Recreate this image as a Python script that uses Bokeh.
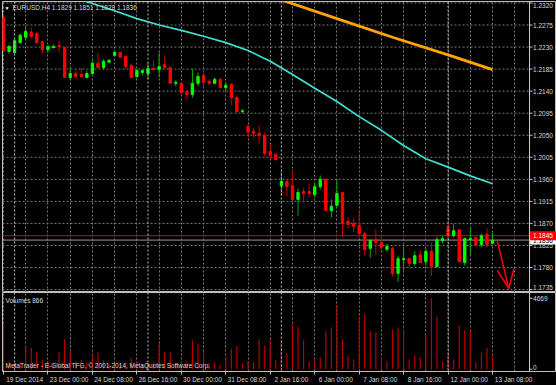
from bokeh.plotting import figure
from bokeh.layouts import column
from bokeh.models import ColumnDataSource, FixedTicker, Range1d, Label, Span
from bokeh.core.properties import value
from bokeh.embed import file_html
from bokeh.resources import INLINE

# ---------------- data ----------------
symbol = "EURUSD,H4"
opens = [1.2290, 1.2221, 1.2219, 1.2239, 1.2250, 1.2260, 1.2258, 1.2241, 1.2225, 1.2229,
         1.2233, 1.2229, 1.2168, 1.2176, 1.2174, 1.2168, 1.2176, 1.2197, 1.2188, 1.2199,
         1.2213, 1.2219, 1.2211, 1.2192, 1.2170, 1.2178, 1.2176, 1.2186, 1.2184, 1.2194,
         1.2188, 1.2156, 1.2156, 1.2139, 1.2133, 1.2156, 1.2172, 1.2160, 1.2156, 1.2164,
         1.2147, 1.2154, 1.2127, 1.2098, 1.2068, 1.2058, 1.2054, 1.2049, 1.2017, 1.2011,
         1.1947, 1.1956, 1.1947, 1.1919, 1.1935, 1.1935, 1.1929, 1.1945, 1.1960, 1.1896,
         1.1907, 1.1933, 1.1874, 1.1870, 1.1866, 1.1849, 1.1819, 1.1837, 1.1831, 1.1817,
         1.1819, 1.1768, 1.1796, 1.1798, 1.1788, 1.1806, 1.1792, 1.1813, 1.1782, 1.1835,
         1.1862, 1.1845, 1.1857, 1.1790, 1.1837, 1.1841, 1.1827, 1.1847, 1.1829]
highs = [1.2295, 1.2235, 1.2248, 1.2258, 1.2274, 1.2270, 1.2260, 1.2243, 1.2233, 1.2235,
         1.2243, 1.2231, 1.2188, 1.2182, 1.2188, 1.2182, 1.2207, 1.2219, 1.2205, 1.2205,
         1.2223, 1.2221, 1.2211, 1.2197, 1.2186, 1.2184, 1.2197, 1.2203, 1.2219, 1.2213,
         1.2190, 1.2162, 1.2158, 1.2143, 1.2186, 1.2178, 1.2180, 1.2164, 1.2168, 1.2166,
         1.2158, 1.2156, 1.2131, 1.2103, 1.2072, 1.2064, 1.2070, 1.2056, 1.2031, 1.2013,
         1.1976, 1.1958, 1.1976, 1.1941, 1.1943, 1.1951, 1.1953, 1.1968, 1.1962, 1.1919,
         1.1960, 1.1933, 1.1882, 1.1880, 1.1898, 1.1853, 1.1839, 1.1857, 1.1845, 1.1829,
         1.1823, 1.1804, 1.1819, 1.1800, 1.1813, 1.1815, 1.1819, 1.1831, 1.1843, 1.1845,
         1.1870, 1.1870, 1.1857, 1.1841, 1.1860, 1.1843, 1.1849, 1.1860, 1.1851]
lows = [1.2219, 1.2217, 1.2217, 1.2237, 1.2248, 1.2248, 1.2237, 1.2217, 1.2219, 1.2227,
        1.2219, 1.2168, 1.2162, 1.2166, 1.2168, 1.2166, 1.2174, 1.2188, 1.2184, 1.2199,
        1.2211, 1.2209, 1.2186, 1.2168, 1.2166, 1.2172, 1.2164, 1.2182, 1.2168, 1.2186,
        1.2156, 1.2150, 1.2135, 1.2123, 1.2127, 1.2150, 1.2150, 1.2152, 1.2154, 1.2147,
        1.2141, 1.2111, 1.2098, 1.2096, 1.2047, 1.2045, 1.2033, 1.2007, 1.2002, 1.2000,
        1.1927, 1.1925, 1.1917, 1.1886, 1.1913, 1.1923, 1.1923, 1.1939, 1.1896, 1.1882,
        1.1905, 1.1841, 1.1860, 1.1853, 1.1841, 1.1804, 1.1800, 1.1806, 1.1817, 1.1813,
        1.1762, 1.1751, 1.1770, 1.1780, 1.1784, 1.1790, 1.1784, 1.1762, 1.1780, 1.1829,
        1.1843, 1.1841, 1.1792, 1.1784, 1.1806, 1.1825, 1.1821, 1.1821, 1.1828]
closes = [1.2223, 1.2231, 1.2243, 1.2254, 1.2262, 1.2252, 1.2239, 1.2225, 1.2231, 1.2231,
          1.2231, 1.2168, 1.2176, 1.2170, 1.2170, 1.2176, 1.2197, 1.2188, 1.2201, 1.2203,
          1.2219, 1.2209, 1.2190, 1.2168, 1.2182, 1.2182, 1.2186, 1.2184, 1.2190, 1.2188,
          1.2156, 1.2158, 1.2137, 1.2133, 1.2156, 1.2170, 1.2158, 1.2156, 1.2164, 1.2147,
          1.2152, 1.2127, 1.2098, 1.2100, 1.2056, 1.2054, 1.2049, 1.2013, 1.2009, 1.2000,
          1.1956, 1.1945, 1.1919, 1.1933, 1.1931, 1.1931, 1.1945, 1.1960, 1.1896, 1.1905,
          1.1931, 1.1870, 1.1868, 1.1864, 1.1849, 1.1817, 1.1835, 1.1831, 1.1821, 1.1823,
          1.1768, 1.1798, 1.1798, 1.1788, 1.1804, 1.1790, 1.1813, 1.1782, 1.1837, 1.1839,
          1.1845, 1.1855, 1.1792, 1.1839, 1.1839, 1.1827, 1.1845, 1.1827, 1.1836]
volumes = [3000, 510, 400, 450, 1540, 1410, 1150, 580, 450, 380,
           1090, 1980, 1150, 500, 600, 450, 960, 1090, 580, 350,
           320, 400, 450, 700, 500, 300, 450, 400, 1660, 1150,
           1090, 400, 510, 450, 1920, 1660, 1150, 400, 450, 260,
           830, 1340, 1540, 400, 510, 450, 1980, 1540, 1980, 600,
           1790, 1020, 3000, 2820, 1920, 510, 640, 770, 2500, 2750,
           4220, 1980, 900, 640, 3450, 3650, 2500, 2430, 770, 510,
           2620, 2750, 2620, 640, 900, 770, 2240, 4669, 3450, 510,
           900, 640, 2880, 2560, 2500, 510, 1090, 1410, 866]
bars = list(range(len(opens)))

x_label_bars = [0, 8, 16, 24, 32, 40, 48, 56, 64, 72, 80, 88]
x_labels = ["19 Dec 2014", "23 Dec 00:00", "24 Dec 08:00", "26 Dec 16:00", "30 Dec 00:00",
            "31 Dec 08:00", "2 Jan 16:00", "6 Jan 00:00", "7 Jan 08:00", "8 Jan 16:00",
            "12 Jan 00:00", "13 Jan 08:00"]
price_ticks = [1.2320, 1.2275, 1.2230, 1.2185, 1.2140, 1.2095, 1.2050, 1.2005,
               1.1960, 1.1915, 1.1870, 1.1825, 1.1780, 1.1735]
separator_bars = [2, 26, 50, 80]

cyan_bars = [12, 14, 16, 20, 24, 28, 32, 36, 40, 44, 48, 52, 56, 60, 64, 68, 72, 76, 80, 84, 88]
cyan_vals = [1.2332, 1.2326, 1.2319, 1.2304, 1.2288, 1.2275, 1.2264, 1.2252, 1.2239, 1.2223,
             1.2201, 1.2174, 1.2146, 1.2119, 1.2088, 1.2060, 1.2029, 1.2002, 1.1985, 1.1967, 1.1951]
orange_bars = [50, 60, 70, 80, 88]
orange_vals = [1.2326, 1.2288, 1.2250, 1.2214, 1.2184]

alert_price = 1.1845
bid_price = closes[-1]
arrow_shaft_x = [88.84, 90.93]
arrow_shaft_y = [1.1835, 1.1737]
arrow_head_x = [88.84, 90.93, 91.83]
arrow_head_y = [1.1774, 1.1737, 1.1777]

# ---------------- layout / style ----------------
FONT = "Liberation Sans"
FS = "6.5px"
TXT = "#d8d8d8"
GRID = "#787878"
W = 556
FW = W - 2               # frame width incl. price-scale strip
X0, X1 = -0.18, 99.51    # visible bar range (incl. price-scale strip)
AX = 94.66               # x of the price-scale line (in bar units)
PXB = FW / (X1 - X0)     # pixels per bar
LABX = AX + 3.5 / PXB
TICK = 3.0 / PXB
Y0, Y1 = 1.1729, 1.2323
H_MAIN = 292
FH = H_MAIN - 1
V0, V1 = -150, 5050
H_VOL = 93
vgrid_ticks = list(range(0, 96, 4))

up = [c >= o for o, c in zip(opens, closes)]
src = ColumnDataSource(dict(
    x=bars, h=highs, l=lows,
    top=[max(o, c) for o, c in zip(opens, closes)],
    bottom=[min(o, c) for o, c in zip(opens, closes)],
    body=["#00ff00" if u else "#ff0000" for u in up],
    wick=["#00b000" if u else "#c80000" for u in up],
))

p = figure(x_range=Range1d(X0, X1), y_range=Range1d(Y0, Y1),
           width=W, height=H_MAIN, toolbar_location=None, output_backend="svg",
           x_axis_location=None, y_axis_location=None,
           background_fill_color="black", border_fill_color="black",
           min_border_left=2, min_border_right=0, min_border_top=1, min_border_bottom=0)
p.outline_line_color = "#c0c0c0"
p.xgrid.ticker = FixedTicker(ticks=vgrid_ticks)
p.xgrid.grid_line_color = GRID
p.xgrid.grid_line_dash = "2 2"
p.ygrid.grid_line_color = None

# horizontal grid, stopping at the price scale
p.segment(x0=[X0] * len(price_ticks), x1=[AX] * len(price_ticks), y0=price_ticks, y1=price_ticks,
          line_color=GRID, line_dash="2 2", line_width=1)
for b in separator_bars:
    p.add_layout(Span(location=b, dimension="height", line_color="#c0c0c0",
                      line_dash="2 2", line_width=1))

p.line(cyan_bars, cyan_vals, line_color="#40e0d0", line_width=1.7)
p.line(orange_bars, orange_vals, line_color="#ffa500", line_width=2.8)

p.segment(x0=[X0], x1=[AX], y0=[alert_price], y1=[alert_price], line_color="#b40000", line_width=1.3)
p.segment(x0=[X0], x1=[AX], y0=[bid_price], y1=[bid_price], line_color="#9a9a9a", line_width=1)

p.segment("x", "h", "x", "l", source=src, line_color="wick", line_width=1)
p.vbar(x="x", top="top", bottom="bottom", width=0.42, fill_color="body",
       line_color="body", line_width=1, source=src)

p.line(arrow_shaft_x, arrow_shaft_y, line_color="#ff0000", line_width=1.5)
p.line(arrow_head_x, arrow_head_y, line_color="#ff0000", line_width=1.5)

# price scale
n = len(price_ticks)
p.add_layout(Span(location=AX, dimension="height", line_color="#d0d0d0", line_width=1))
p.segment(x0=[AX] * n, x1=[AX + TICK] * n, y0=price_ticks, y1=price_ticks,
          line_color="#c0c0c0", line_width=1)
edge_shift = [3 if i == 0 else (-2 if i == n - 1 else 0) for i in range(n)]
p.text(x=[LABX] * n, y=price_ticks, text=[f"{t:.4f}" for t in price_ticks], y_offset=edge_shift,
       text_font=value(FONT), text_font_size=value(FS), text_color=TXT, text_baseline="middle")

ppx = (Y1 - Y0) / FH
for price, fill, tcol in ((bid_price, "white", "black"), (alert_price, "#ff0000", "white")):
    p.quad(left=[AX + 0.1], right=[X1], top=[price + 4.5 * ppx], bottom=[price - 4.5 * ppx],
           fill_color=fill, line_color=None)
    p.text(x=[LABX], y=[price], text=[f"{price:.4f}"], text_font=value(FONT),
           text_font_size=value(FS), text_color=tcol, text_baseline="middle")

p.add_layout(Label(x=X0, y=Y1, x_offset=2, y_offset=-6, text="\u25bc",
                   text_font=FONT, text_font_size="5px", text_color="white",
                   text_baseline="middle"))
p.add_layout(Label(x=X0, y=Y1, x_offset=10, y_offset=-6,
                   text=f"{symbol}  {opens[-1]:.4f} {highs[-1]:.4f} {lows[-1]:.4f} {closes[-1]:.4f}",
                   text_font=FONT, text_font_size=FS, text_color=TXT, text_baseline="middle"))

# ---------------- volume panel ----------------
vmax = max(volumes)
pv = figure(x_range=p.x_range, y_range=Range1d(V0, V1),
            width=W, height=H_VOL, toolbar_location=None, output_backend="svg",
            x_axis_location="below", y_axis_location=None,
            background_fill_color="black", border_fill_color="black",
            min_border_left=2, min_border_right=0, min_border_top=0, min_border_bottom=0)
pv.outline_line_color = "#c0c0c0"
pv.xgrid.ticker = FixedTicker(ticks=vgrid_ticks)
pv.xgrid.grid_line_color = GRID
pv.xgrid.grid_line_dash = "2 2"
pv.ygrid.grid_line_color = None
for b in separator_bars:
    pv.add_layout(Span(location=b, dimension="height", line_color="#c0c0c0",
                       line_dash="2 2", line_width=1))

pv.segment(x0=bars, y0=[0] * len(bars), x1=bars, y1=volumes, line_color="#b80000", line_width=1.2)

vticks = [0, vmax]
pv.add_layout(Span(location=AX, dimension="height", line_color="#d0d0d0", line_width=1))
pv.segment(x0=[AX] * 2, x1=[AX + TICK] * 2, y0=vticks, y1=vticks, line_color="#c0c0c0", line_width=1)
pv.text(x=[LABX] * 2, y=vticks, text=[str(v) for v in vticks], y_offset=[-2, 0],
        text_font=value(FONT), text_font_size=value(FS), text_color=TXT, text_baseline="middle")

label_offset = 3.8
centers = [b + label_offset for b in x_label_bars]
xa = pv.xaxis[0]
xa.ticker = FixedTicker(ticks=centers, minor_ticks=x_label_bars)
xa.major_label_overrides = {c: t for c, t in zip(centers, x_labels)}
xa.axis_line_color = None
xa.major_tick_out = 0
xa.major_tick_in = 0
xa.minor_tick_out = 3
xa.minor_tick_in = 0
xa.minor_tick_line_color = "#c0c0c0"
xa.major_label_standoff = 1
xa.major_label_text_font = FONT
xa.major_label_text_font_size = FS
xa.major_label_text_color = TXT

pv.add_layout(Label(x=X0, y=V1, x_offset=3, y_offset=-7.5, text=f"Volumes {volumes[-1]}",
                    text_font=FONT, text_font_size=FS, text_color=TXT, text_baseline="middle"))
pv.add_layout(Label(x=X0, y=V0, x_offset=3, y_offset=6,
                    text="MetaTrader - E-Global TFG, \u00a9 2001-2014, MetaQuotes Software Corp.",
                    text_font=FONT, text_font_size=FS, text_color=TXT, text_baseline="middle"))

layout = column(p, pv, spacing=0, styles={"background-color": "black"})
open("out.html", "w").write(file_html(layout, INLINE))
